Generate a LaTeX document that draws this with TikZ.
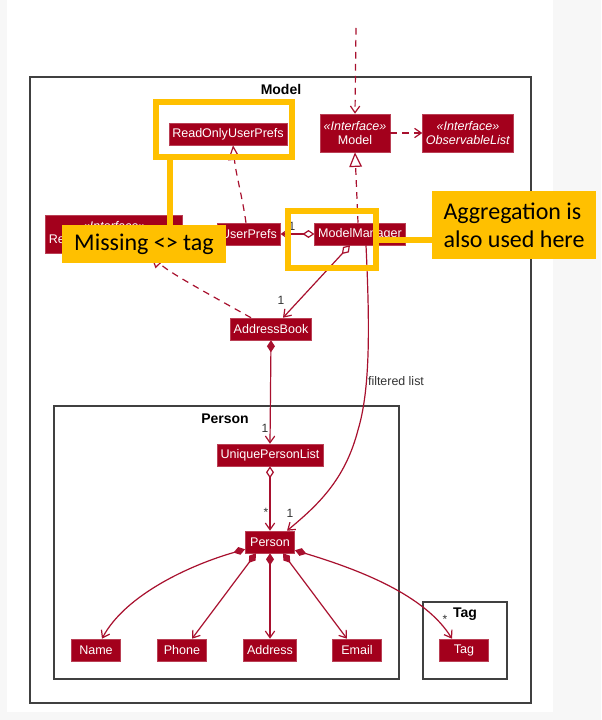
\documentclass[tikz,border=0pt]{standalone}
\usepackage{fontspec}
\setmainfont{Liberation Sans}
\newfontfamily\calibri{Carlito}
\usetikzlibrary{arrows.meta,calc}
\definecolor{umlred}{HTML}{A3001C}
\definecolor{umlline}{HTML}{A8102E}
\definecolor{noteorange}{HTML}{FFC000}
\definecolor{framegray}{HTML}{404040}
\definecolor{pagegray}{HTML}{F7F7F7}
\tikzset{
  cls/.style={fill=umlred, draw=umlred!75!white, text=white, font=\fontsize{9.4}{9.8}\selectfont, inner xsep=2.6pt, inner ysep=0pt, minimum height=16.5pt, minimum width=37pt},
  iface/.style={cls, align=center, minimum height=28.5pt},
  pkg/.style={draw=framegray, line width=1.1pt},
  pkgname/.style={font=\fontsize{10.5}{12}\selectfont\bfseries, inner sep=0pt},
  mult/.style={font=\fontsize{9}{10}\selectfont, text=black!80, inner sep=0pt},
  assoc/.style={draw=umlline, line width=0.9pt, -{Straight Barb[length=5pt,width=7pt]}},
  dep/.style={assoc, dash pattern=on 5pt off 4pt},
  realz/.style={draw=umlline, line width=0.9pt, dash pattern=on 5pt off 4pt, -{Triangle[open,length=11pt,width=9.5pt,fill=white]}},
  agg/.style={assoc, {Diamond[open,length=9pt,width=6pt,fill=white]}-{Straight Barb[length=5pt,width=7pt]}},
  comp/.style={assoc, {Diamond[length=9pt,width=6pt]}-{Straight Barb[length=5pt,width=7pt]}},
  hl/.style={draw=noteorange, line width=4.5pt},
  note/.style={fill=noteorange, font=\calibri\fontsize{18}{21}\selectfont, text=black, inner sep=0pt, minimum width=123pt},
}
\begin{document}
\begin{tikzpicture}[x=0.75pt,y=-0.75pt]
\fill[pagegray] (0,0) rectangle (601,720);
\fill[white] (7,0) rectangle (553,712);
\useasboundingbox (0,0) rectangle (601,720);
\draw[pkg] (30,77) rectangle (531,703);
\node[pkgname] (modelpkg) at (281,89) {Model};
\draw[pkg] (54,406) rectangle (399,679);
\node[pkgname] (personpkg) at (225,419) {Person};
\draw[pkg] (423,602) rectangle (507,679);
\node[pkgname] (tagpkg) at (465,614) {Tag};

\node[cls] (rup) at (228,134) {ReadOnlyUserPrefs};
\node[iface] (model) at (355,133) {\textit{«Interface»}\\Model};
\node[iface] (obs) at (468,133) {\textit{«Interface»}\\\textit{ObservableList}};
\node[iface] (rab) at (114,234) {\textit{«Interface»}\\ReadOnlyAddressBook};
\node[cls] (up) at (249,234) {UserPrefs};
\node[cls] (mm) at (360,234) {ModelManager};
\node[cls] (ab) at (271,329) {AddressBook};
\node[cls] (upl) at (270,455) {UniquePersonList};
\node[cls] (person) at (270,542) {Person};
\node[cls] (name) at (96,650) {Name};
\node[cls] (phone) at (182,650) {Phone};
\node[cls] (addr) at (270,650) {Address};
\node[cls] (email) at (357,650) {Email};
\node[cls] (tag) at (464,650) {Tag};

\coordinate (ext) at (356,28);
\draw[dep] (ext) -- (model.north);
\draw[dep] (model.east) -- (obs.west);
\draw[realz] ($(mm.north)+(-2,0)$) -- (model.south);
\draw[realz] ($(up.north)+(-3,0)$) .. controls (242,195) and (236,175) .. ($(rup.south)+(5,0)$);
\draw[realz] ($(ab.north)+(-20,0)$) .. controls (205,292) and (168,272) .. ($(rab.south)+(36,0)$);
\draw[agg] (mm.west) -- (up.east);
\node[mult] (m1) at (292,226) {1};
\draw[agg] ($(mm.south)+(-10,0)$) -- ($(ab.north)+(12,0)$);
\node[mult] (m2) at (281,300) {1};
\draw[comp] (ab.south) -- (upl.north);
\node[mult] (m3) at (265,428) {1};
\draw[agg] (upl.south) -- (person.north);
\node[mult] (m4) at (266,512) {*};
\draw[assoc] ($(mm.south)+(6,0)$) .. controls (370,330) and (370,390) .. (358,430) .. controls (345,480) and (318,505) .. ($(person.north)+(17,0)$);
\node[mult] (m5) at (290,513) {1};
\node[mult, font=\fontsize{9.3}{10}\selectfont] (fl) at (396,381) {filtered list};

\draw[comp] ($(person.south west)+(0,-4)$) .. controls (190,565) and (125,595) .. ($(name.north)+(6,0)$);
\draw[comp] ($(person.south)+(-14,0)$) -- ($(phone.north)+(10,0)$);
\draw[comp] (person.south) -- (addr.north);
\draw[comp] ($(person.south)+(13,0)$) -- ($(email.north)+(-10,0)$);
\draw[comp] ($(person.south east)+(0,-3)$) .. controls (360,570) and (425,595) .. ($(tag.north)+(-12,0)$);
\node[mult] (m6) at (445,619) {*};

\draw[hl] (156,102) rectangle (292,157);
\node[note, minimum height=28.5pt] (missing) at (144,244) {Missing <> tag};
\coordinate (hl1) at (170,157);
\draw[hl] (hl1) -- (hl1 |- missing.north);
\draw[hl] (288,211) rectangle (376,268);
\node[note, minimum height=51pt, align=left] (aggnote) at (514,225) {Aggregation is\\also used here};
\coordinate (hl2) at (376,240);
\draw[hl] (hl2) -- (aggnote.west |- hl2);
\end{tikzpicture}
\end{document}
